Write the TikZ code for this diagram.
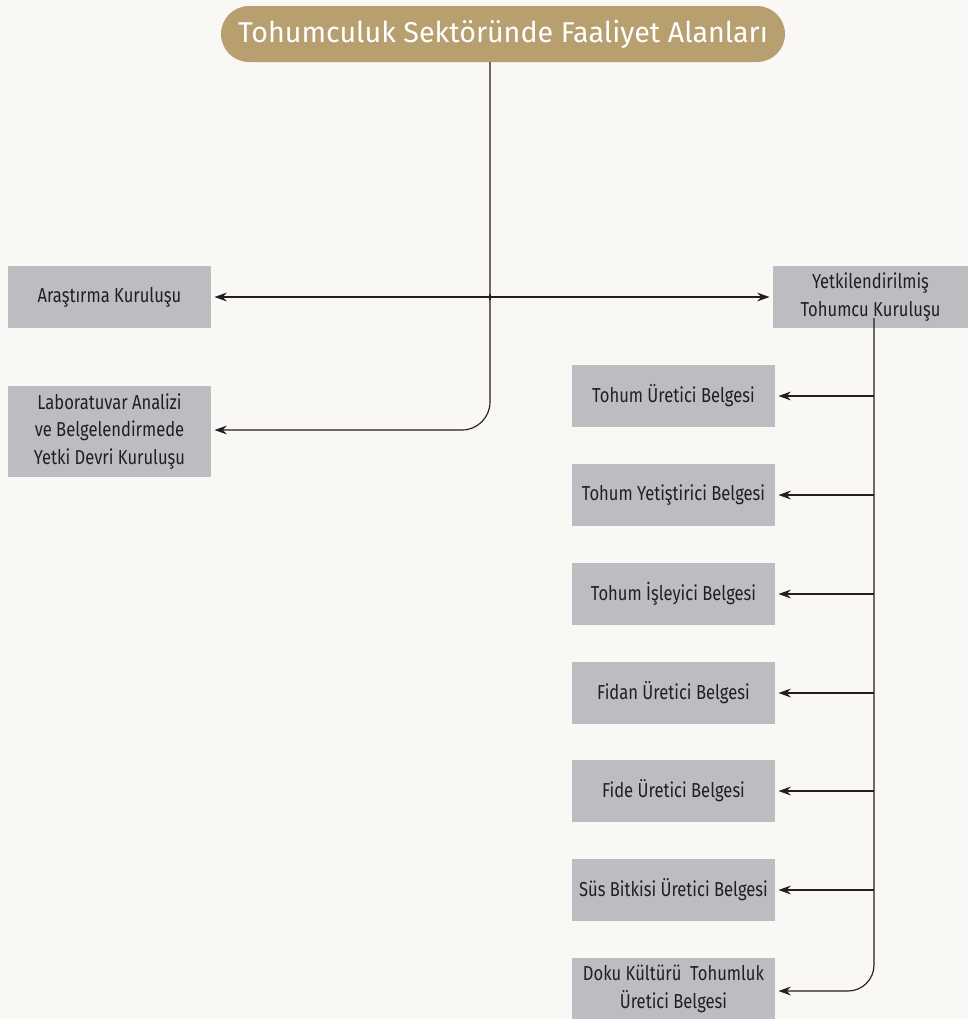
\documentclass[tikz,border=0pt]{standalone}
\usepackage{fontspec}
\usetikzlibrary{arrows.meta}
\newfontfamily\boxfont{Fira Sans}[FakeStretch=0.82]
\newfontfamily\titlefont{Fira Sans}
\definecolor{paper}{HTML}{F9F8F4}
\definecolor{boxgray}{HTML}{BCBDC0}
\definecolor{goldtan}{HTML}{B89F70}
\definecolor{ink}{HTML}{231F20}
\newlength\pxu
\setlength\pxu{0.02cm}
\tikzset{
  cardbox/.style={fill=boxgray, inner sep=0pt, minimum width=203\pxu, minimum height=62\pxu,
    align=center, text=ink, font=\boxfont\fontsize{11.5pt}{15.6pt}\selectfont},
  link/.style={draw=ink, line width=0.65pt},
  arr/.style={link, -{Stealth[length=7pt,width=5pt]}, shorten >=1.8pt},
}
\begin{document}
\begin{tikzpicture}[x=\pxu, y=-\pxu]
  \fill[paper] (0,0) rectangle (968,1019);
  \useasboundingbox (0,0) rectangle (968,1019);

  % heading
  \node[fill=goldtan, rounded corners=28\pxu, minimum width=564\pxu, minimum height=56\pxu,
        inner sep=0pt, text=white, font=\titlefont\fontsize{16.3pt}{18pt}\selectfont]
        (title) at (503,34) {Tohumculuk Sektöründe Faaliyet Alanları};

  % left column
  \node[cardbox] (ar) at (109.5,297) {Araştırma Kuruluşu};
  \node[cardbox, minimum height=91\pxu] (lab) at (109.5,431.5)
       {Laboratuvar Analizi\\ve Belgelendirmede\\Yetki Devri Kuruluşu};

  % authorised organisation
  \node[cardbox, minimum width=195\pxu] (yt) at (870.5,297) {Yetkilendirilmiş\\Tohumcu Kuruluşu};

  % certificate column
  \node[cardbox] (b1) at (673.5,396) {Tohum Üretici Belgesi};
  \node[cardbox] (b2) at (673.5,495) {Tohum Yetiştirici Belgesi};
  \node[cardbox] (b3) at (673.5,594) {Tohum İşleyici Belgesi};
  \node[cardbox] (b4) at (673.5,693) {Fidan Üretici Belgesi};
  \node[cardbox] (b5) at (673.5,791) {Fide Üretici Belgesi};
  \node[cardbox] (b6) at (673.5,890) {Süs Bitkisi Üretici Belgesi};
  \node[cardbox] (b7) at (673.5,989) {Doku Kültürü\ \ Tohumluk\\Üretici Belgesi};

  % connectors from the heading
  \coordinate (t0) at (490,62);
  \coordinate (j) at (490,297);
  \draw[arr, rounded corners=28\pxu] (t0) |- ([yshift=1.5\pxu]lab.east);
  \draw[arr] (j) -- (ar.east);
  \draw[arr] (j) -- (yt.west);
  \draw[link] (490,294) -- (490,300);

  % spine of the authorised organisation
  \coordinate (s0) at (874,318);
  \draw[arr, rounded corners=26\pxu] (s0) |- ([yshift=-2\pxu]b7.east);
  \foreach \b in {b1,b2,b3,b4,b5,b6}
    \draw[arr] (s0 |- \b.east) -- (\b.east);
\end{tikzpicture}
\end{document}
